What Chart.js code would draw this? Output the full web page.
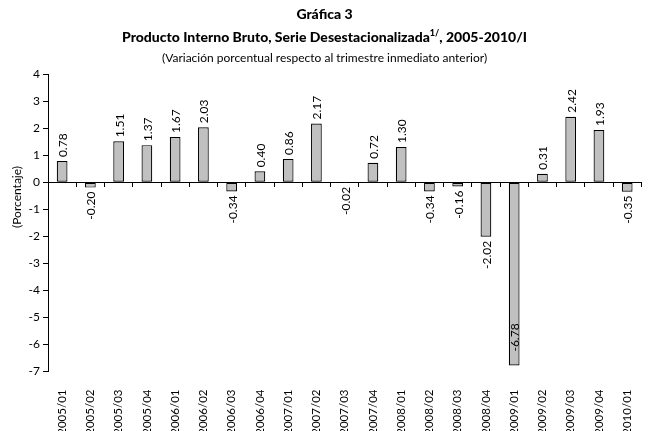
<!DOCTYPE html>
<html>
<head>
<meta charset="utf-8">
<script src="https://cdn.jsdelivr.net/npm/chart.js@4.4.1/dist/chart.umd.min.js"></script>
<style>
  html, body { margin: 0; padding: 0; background: #fff; overflow: hidden; }
  #wrap { position: relative; width: 649px; height: 431px; overflow: hidden; }
  #box  { position: absolute; left: 0; top: 0; width: 651px; height: 431px; }
  .t { position: absolute; left: 0; width: 649px; text-align: center; font-family: Lato, sans-serif; color: #000; white-space: nowrap; }
  #t1 { top: 5px;  font-size: 14px; font-weight: 900; }
  #t2 { top: 28px; font-size: 14px; font-weight: 900; }
  #t2 sup { font-size: 9px; line-height: 0; }
  #t3 { top: 50px; font-size: 12px; }
</style>
</head>
<body>
<div id="wrap">
  <div id="box"><canvas id="chart"></canvas></div>
  <div class="t" id="t1">Gráfica 3</div>
  <div class="t" id="t2">Producto Interno Bruto, Serie Desestacionalizada<sup>1/</sup>, 2005-2010/I</div>
  <div class="t" id="t3">(Variación porcentual respecto al trimestre inmediato anterior)</div>
</div>
<script>
// ---- data ----
const QUARTERS = [
  '2005/01','2005/02','2005/03','2005/04',
  '2006/01','2006/02','2006/03','2006/04',
  '2007/01','2007/02','2007/03','2007/04',
  '2008/01','2008/02','2008/03','2008/04',
  '2009/01','2009/02','2009/03','2009/04',
  '2010/01',
];
const PIB_VAR = [
  0.78, -0.20, 1.51, 1.37,
  1.67, 2.03, -0.34, 0.40,
  0.86, 2.17, -0.02, 0.72,
  1.30, -0.34, -0.16, -2.02,
  -6.78, 0.31, 2.42, 1.93,
  -0.35,
];
const Y_MIN = -7;
const Y_MAX = 4;
const Y_TITLE = '(Porcentaje)';

const FONT = 'Lato, sans-serif';

// Rotated value labels above / below each bar
const barLabels = {
  id: 'barLabels',
  afterDatasetsDraw(chart) {
    const { ctx, chartArea } = chart;
    const meta = chart.getDatasetMeta(0);
    ctx.save();
    ctx.fillStyle = '#000';
    ctx.font = `12px ${FONT}`;
    ctx.textBaseline = 'middle';
    meta.data.forEach((bar, i) => {
      const v = PIB_VAR[i];
      const txt = v.toFixed(2);
      const w = ctx.measureText(txt).width;
      const zero = chart.scales.y.getPixelForValue(0);
      ctx.save();
      if (v >= 0) {
        ctx.translate(bar.x + 1, bar.y - 4);
        ctx.rotate(-Math.PI / 2);
        ctx.textAlign = 'left';
      } else {
        const bottom = Math.max(bar.y, zero);
        if (bottom + 4 + w > chartArea.bottom) {
          // does not fit under the bar: put it inside
          ctx.translate(bar.x + 1, bottom - 14);
          ctx.rotate(-Math.PI / 2);
          ctx.textAlign = 'left';
        } else {
          ctx.translate(bar.x + 1, bottom + 4);
          ctx.rotate(-Math.PI / 2);
          ctx.textAlign = 'right';
        }
      }
      ctx.fillText(txt, 0, 0);
      ctx.restore();
    });
    ctx.restore();
  },
};

// Y axis title, drawn where the original has it (not centred on the axis)
const yTitle = {
  id: 'yTitle',
  afterDraw(chart) {
    const { ctx } = chart;
    ctx.save();
    ctx.fillStyle = '#000';
    ctx.font = `12px ${FONT}`;
    ctx.textAlign = 'center';
    ctx.textBaseline = 'middle';
    ctx.translate(17, 197);
    ctx.rotate(-Math.PI / 2);
    ctx.fillText(Y_TITLE, 0, 0);
    ctx.restore();
  },
};

new Chart(document.getElementById('chart'), {
  type: 'bar',
  data: {
    labels: QUARTERS,
    datasets: [{
      data:               PIB_VAR,
      backgroundColor:    '#c0c0c0',
      borderColor:        '#000',
      borderWidth:        1.2,
      borderSkipped:      false,
      categoryPercentage: 1,
      barPercentage:      0.38,
      xAxisID:            'x',
    }],
  },
  options: {
    responsive:          true,
    maintainAspectRatio: false,
    animation:           false,
    events:              [],
    layout: { padding: { top: 74, left: 0, right: 0, bottom: 0 } },
    plugins: {
      legend:  { display: false },
      tooltip: { enabled: false },
    },
    scales: {
      x: {
        type: 'category',
        position: 'bottom',
        border: { display: false },
        grid:   { display: false },
        ticks: {
          color: '#000',
          font: { family: FONT, size: 11.5 },
          minRotation: 90,
          maxRotation: 90,
          padding: 10,
          autoSkip: false,
        },
        afterFit: s => { s.height = 59.5; },
      },
      x2: {
        type: 'category',
        labels: QUARTERS,
        position: { y: 0 },
        offset: true,
        border: { display: false },
        grid: {
          offset: true,
          drawOnChartArea: false,
          drawTicks: true,
          tickLength: 5,
          tickColor: '#000',
          tickWidth: 1,
        },
        ticks: { display: false },
      },
      y: {
        min: Y_MIN,
        max: Y_MAX,
        border: { display: true, color: '#000', width: 1 },
        grid: {
          color: ctx => (ctx.tick && ctx.tick.value === 0 ? '#000' : 'rgba(0,0,0,0)'),
          lineWidth: 1,
          drawTicks: true,
          tickLength: 5,
          tickColor: '#000',
        },
        ticks: {
          stepSize: 1,
          color: '#000',
          font: { family: FONT, size: 12 },
          padding: 3,
        },
        afterFit: s => { s.width = 48; },
      },
    },
  },
  plugins: [barLabels, yTitle],
});
</script>
</body>
</html>
